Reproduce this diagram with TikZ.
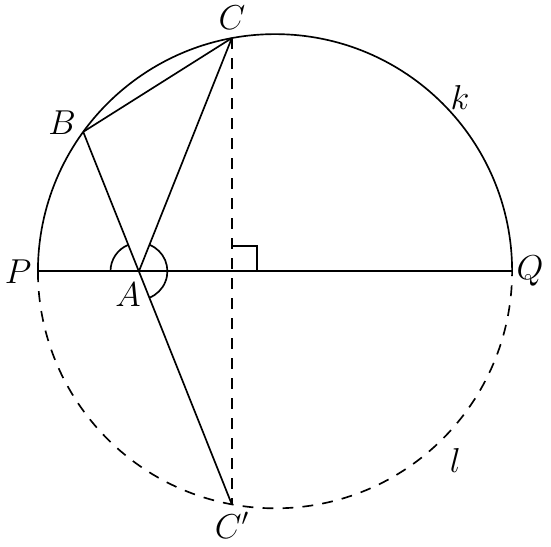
\documentclass[tikz,border=0pt]{standalone}
\usepackage{amsmath,amssymb}
\usepackage{tikz}
\usetikzlibrary{calc}

\begin{document}
\begin{tikzpicture}[line width=1pt, font=\huge,
  dashline/.style={dash pattern=on 6.5pt off 5.5pt}]
  \useasboundingbox (-5.80,-5.80) rectangle (5.82,5.72);
  \coordinate (O) at (0,0);
  \coordinate (P) at (180:5);
  \coordinate (Q) at (0:5);
  \coordinate (B) at (144:5);
  \coordinate (C) at (100.5:5);
  \coordinate (C') at (-100.5:5);
  \coordinate (A) at (-2.87,0);
  \coordinate (D) at (C |- O);
  \draw (Q) arc (0:180:5);
  \draw[dashline] (P) arc (180:360:5);
  \draw (P) -- (Q);
  \draw (B) -- (C);
  \draw (A) -- (C);
  \draw (B) -- (C');
  \draw[dashline] (C) -- (C');
  \draw ($(D)+(0,0.53)$) -- ++(0.53,0) -- ++(0,-0.53);
  \draw ($(A)+(180:0.6)$) arc (180:111.8:0.6);
  \draw ($(A)+(68.3:0.6)$) arc (68.3:-68.3:0.6);
  \node (labP) at (-5.42,0) {\(P\)};
  \node (labQ) at (5.38,0) {\(Q\)};
  \node (labA) at (-3.10,-0.49) {\(A\)};
  \node (labB) at (-4.49,3.14) {\(B\)};
  \node (labC) at (-0.91,5.34) {\(C\)};
  \node (labC') at (-0.91,-5.36) {\(C'\)};
  \node (labk) at (3.90,3.67) {\(k\)};
  \node (labl) at (3.80,-3.99) {\(l\)};
\end{tikzpicture}
\end{document}
